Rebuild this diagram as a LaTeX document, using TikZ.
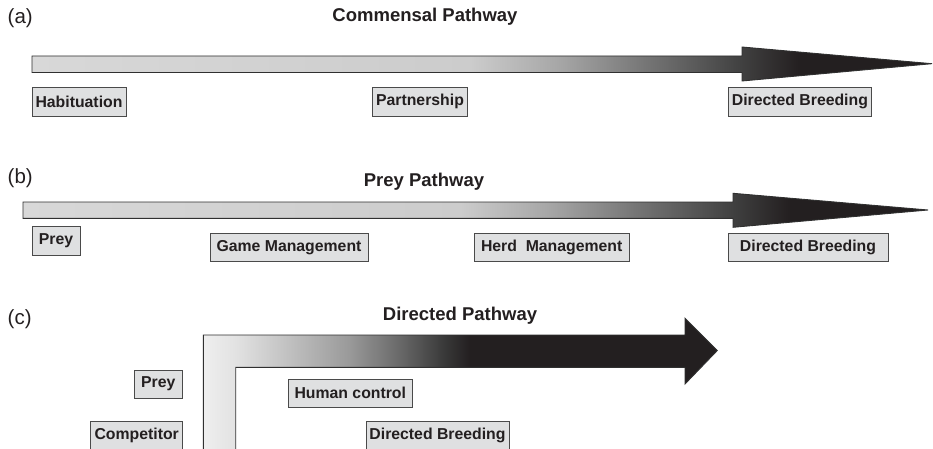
\documentclass[tikz,border=0pt]{standalone}
\usepackage{fontspec}
\setmainfont{Liberation Sans}
\begin{document}
\begin{tikzpicture}[x=1pt,y=-1pt,
  stagebox/.style={draw=boxline, fill=boxfill, line width=0.8pt, inner sep=0pt,
    minimum height=28.4pt, text=inkc, font=\fontsize{15.8}{18}\selectfont\bfseries},
  title/.style={text=inkc, font=\fontsize{18.5}{22}\selectfont\bfseries},
  panel/.style={text=inkc, anchor=west, inner sep=0pt, font=\fontsize{20.5}{24}\selectfont},
  outline/.style={draw=arrowline, line width=0.9pt, line join=miter}]
\definecolor{inkc}{HTML}{231F20}
\definecolor{boxfill}{HTML}{DFE0E1}
\definecolor{boxline}{HTML}{4A4A4A}
\definecolor{arrowline}{HTML}{303030}
\definecolor{g0}{HTML}{D8D8D8}
\definecolor{g1}{HTML}{CCCCCC}
\definecolor{g2}{HTML}{A6A6A6}
\definecolor{g3}{HTML}{737373}
\definecolor{g4}{HTML}{404040}
\definecolor{c0}{HTML}{F0F0F0}
\definecolor{c1}{HTML}{E2E2E2}
\definecolor{c2}{HTML}{C6C6C6}
\definecolor{c3}{HTML}{999999}
\definecolor{c4}{HTML}{686868}
\definecolor{c5}{HTML}{383838}

\useasboundingbox (0,0) rectangle (933,449);
\fill[white] (0,0) rectangle (933,449);

% ---------- (a) commensal pathway ----------
\node[panel] (la) at (7.5,18) {(a)};
\node[title] (ta) at (425,17) {Commensal Pathway};
\begin{scope}
  \clip (32,56) -- (742,56) -- (742,47) -- (932,63.7) -- (742,81) -- (742,72.5) -- (32,72.5) -- cycle;
  \shade[left color=g0, right color=g1] (30,40) rectangle (470,90);
  \shade[left color=g1, right color=g2] (470,40) rectangle (560,90);
  \shade[left color=g2, right color=g3] (560,40) rectangle (650,90);
  \shade[left color=g3, right color=g4] (650,40) rectangle (742,90);
  \shade[left color=g4, right color=inkc] (742,40) rectangle (800,90);
  \fill[inkc] (800,40) rectangle (935,90);
\end{scope}
\draw[outline] (32,56) -- (742,56) -- (742,47) -- (932,63.7) -- (742,81) -- (742,72.5) -- (32,72.5) -- cycle;
\node[stagebox, minimum width=94pt] (hab) at (79,101.8) {Habituation};
\node[stagebox, minimum width=94.6pt] (par) at (420,101.8) {Partnership};
\node[stagebox, minimum width=143.7pt] (dba) at (799.9,101.8) {Directed Breeding};

% ---------- (b) prey pathway ----------
\node[panel] (lb) at (7.5,178) {(b)};
\node[title] (tb) at (424,182) {Prey Pathway};
\begin{scope}
  \clip (23,202) -- (733,202) -- (733,193.3) -- (928,210) -- (733,227.3) -- (733,218.3) -- (23,218.3) -- cycle;
  \shade[left color=g0, right color=g1] (20,185) rectangle (460,235);
  \shade[left color=g1, right color=g2] (460,185) rectangle (550,235);
  \shade[left color=g2, right color=g3] (550,185) rectangle (640,235);
  \shade[left color=g3, right color=g4] (640,185) rectangle (733,235);
  \shade[left color=g4, right color=inkc] (733,185) rectangle (790,235);
  \fill[inkc] (790,185) rectangle (935,235);
\end{scope}
\draw[outline] (23,202) -- (733,202) -- (733,193.3) -- (928,210) -- (733,227.3) -- (733,218.3) -- (23,218.3) -- cycle;
\node[stagebox, minimum width=48pt] (pyb) at (56,240.9) {Prey};
\node[stagebox, minimum width=158pt] (gm) at (289,247.4) {Game Management};
\node[stagebox, minimum width=155.3pt] (hm) at (551.7,247.4) {Herd\ \ Management};
\node[stagebox, minimum width=160pt] (dbb) at (808,247.4) {Directed Breeding};

% ---------- (c) directed pathway ----------
\node[panel] (lc) at (7.5,319.5) {(c)};
\node[title] (tc) at (460,316) {Directed Pathway};
\begin{scope}
  \clip (203.3,449) -- (203.3,335) -- (685,335) -- (685,318.3) -- (717.3,350.5) -- (685,384) -- (685,367.3) -- (235.7,367.3) -- (235.7,449) -- cycle;
  \shade[left color=c0, right color=c1] (200,320) rectangle (236,452);
  \shade[left color=c1, right color=c2] (236,320) rectangle (280,452);
  \shade[left color=c2, right color=c3] (280,320) rectangle (350,452);
  \shade[left color=c3, right color=c4] (350,320) rectangle (400,452);
  \shade[left color=c4, right color=c5] (400,320) rectangle (445,452);
  \shade[left color=c5, right color=inkc] (445,320) rectangle (470,452);
  \fill[inkc] (470,310) rectangle (720,452);
\end{scope}
\draw[outline] (203.3,449) -- (203.3,335) -- (685,335) -- (685,318.3) -- (717.3,350.5) -- (685,384) -- (685,367.3) -- (235.7,367.3) -- (235.7,449);
\node[stagebox, minimum width=48.7pt] (pyc) at (158.3,384.2) {Prey};
\node[stagebox, minimum width=92pt] (comp) at (136.7,435.9) {Competitor};
\node[stagebox, minimum width=124pt] (hc) at (350.3,393.2) {Human control};
\node[stagebox, minimum width=143pt] (dbc) at (437.5,435.9) {Directed Breeding};
\end{tikzpicture}
\end{document}
